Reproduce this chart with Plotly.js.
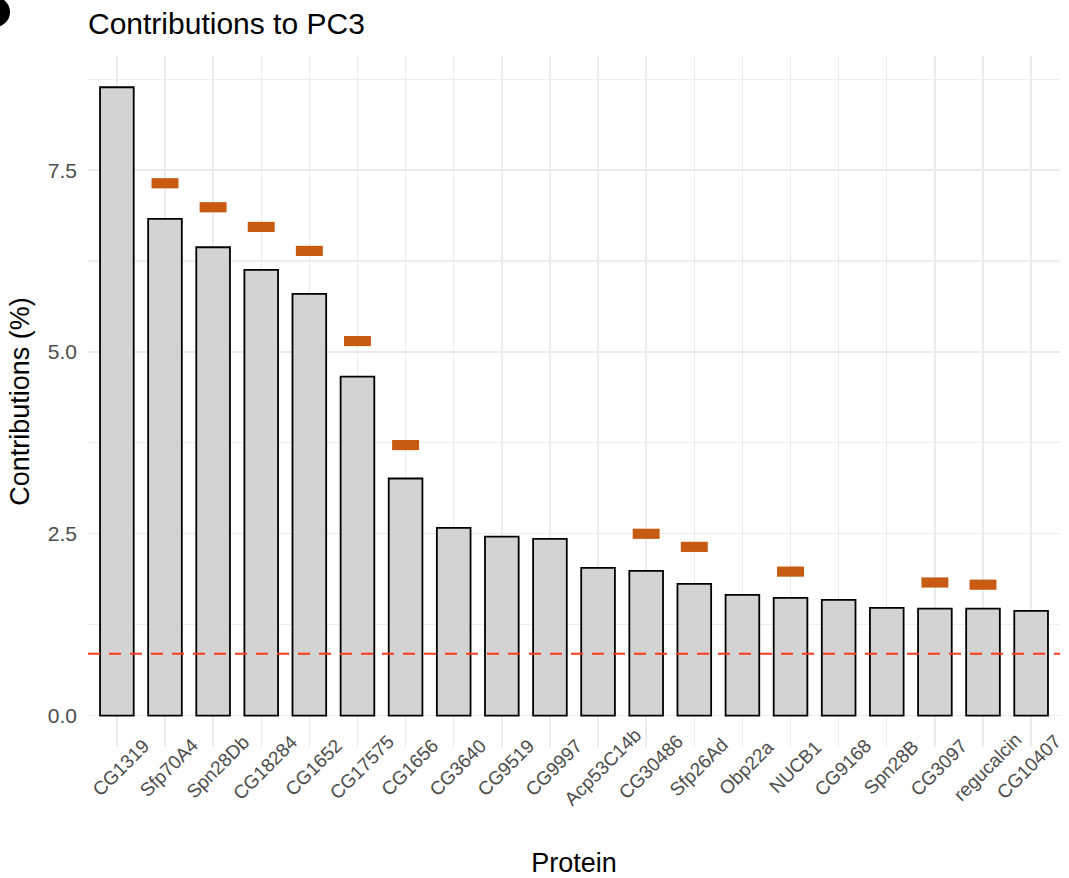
<!DOCTYPE html>
<html>
<head>
<meta charset="utf-8">
<script src="https://cdn.plot.ly/plotly-3.0.1.min.js"></script>
<style>html,body{margin:0;padding:0;background:#fff;}#chart{width:1069px;height:878px;}</style>
</head>
<body>
<div id="chart"></div>
<script>
const proteins = ["CG1319","Sfp70A4","Spn28Db","CG18284","CG1652","CG17575","CG1656","CG3640","CG9519","CG9997","Acp53C14b","CG30486","Sfp26Ad","Obp22a","NUCB1","CG9168","Spn28B","CG3097","regucalcin","CG10407"];
const contributions = [8.64,6.83,6.44,6.13,5.80,4.66,3.26,2.58,2.46,2.43,2.03,1.99,1.81,1.66,1.62,1.59,1.48,1.47,1.47,1.44];
const markerValues = [null,7.32,6.99,6.72,6.39,5.15,3.72,null,null,null,null,2.50,2.32,null,1.98,null,null,1.83,1.80,null];
const threshold = 0.85;
const yTickVals = [0,2.5,5,7.5];
const yTickText = ["0.0","2.5","5.0","7.5"];

const markH = 0.14;
const markerCats = [], markerBase = [], markerH = [];
proteins.forEach((p,i)=>{ if(markerValues[i]!==null){ markerCats.push(p); markerBase.push(markerValues[i]-markH/2); markerH.push(markH);} });

const traces = [
  {type:'bar', x:proteins, y:contributions, width:0.7,
   marker:{color:'#D3D3D3', line:{color:'#000000', width:1.8}}, hoverinfo:'x+y'},
  {type:'bar', x:markerCats, y:markerH, base:markerBase, width:0.56,
   marker:{color:'#C75B12', line:{width:0}}, hoverinfo:'skip'}
];

// rotated category labels, centred on each tick (as in the source figure)
const labelAnnotations = proteins.map((p,i) => ({
  x:p, xref:'x', y:(747-767)/691, yref:'paper', text:p, showarrow:false,
  textangle:-45, xanchor:'center', yanchor:'middle', xshift:(i===proteins.length-1 ? -3 : 4),
  font:{size:19, color:'#4D4D4D'}
}));

const layout = {
  width:1069, height:878,
  margin:{l:88, r:9, t:56, b:131},
  paper_bgcolor:'#ffffff', plot_bgcolor:'#ffffff',
  barmode:'overlay', showlegend:false,
  font:{family:'Liberation Sans, Arial, sans-serif', color:'#000'},
  title:{text:'Contributions to PC3', x:88/1069, xref:'container', xanchor:'left', y:1-23/878, yref:'container', yanchor:'middle',
         font:{size:30, color:'#000'}},
  xaxis:{type:'category', range:[-0.6,19.6], showticklabels:false, showgrid:true, gridcolor:'#EBEBEB', gridwidth:1.4,
         zeroline:false, showline:false, ticks:'', automargin:false,
         title:{text:'Protein', font:{size:27, color:'#000'}, standoff:109}},
  yaxis:{range:[-0.432,9.07], tickvals:yTickVals, ticktext:yTickText, showgrid:true, gridcolor:'#EBEBEB', gridwidth:1.4,
         minor:{tickvals:[1.25,3.75,6.25,8.75], showgrid:true, gridcolor:'#EEEEEE', gridwidth:1.2},
         zeroline:false, showline:false, ticks:'', ticklabelstandoff:10, tickfont:{size:21, color:'#4D4D4D'},
         automargin:false,
         title:{text:'Contributions (%)', font:{size:27, color:'#000'}, standoff:10}},
  annotations: labelAnnotations,
  shapes:[
    {type:'line', xref:'paper', x0:0, x1:1, yref:'y', y0:threshold, y1:threshold,
     line:{color:'#FF3A1F', width:2, dash:'12px,9px'}},
    {type:'circle', xref:'paper', yref:'paper', x0:(-20-88)/972, x1:(10-88)/972, y0:(747-27)/691, y1:(747+3)/691,
     fillcolor:'#000', line:{width:0}, layer:'above'}
  ]
};

Plotly.newPlot('chart', traces, layout, {displayModeBar:false, staticPlot:true});
</script>
</body>
</html>
